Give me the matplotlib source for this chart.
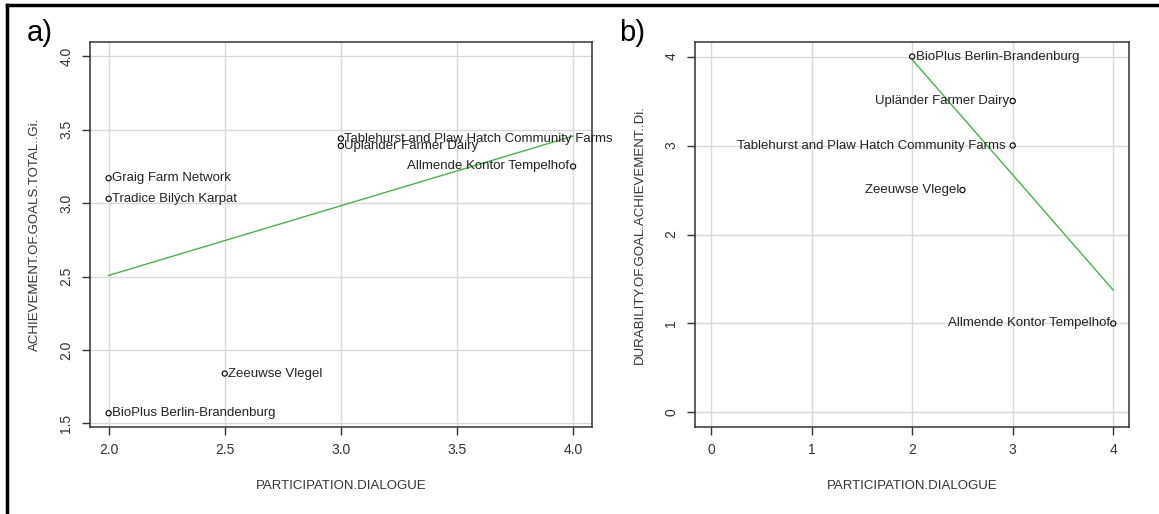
import numpy as np
import matplotlib
matplotlib.use("Agg")
import matplotlib.pyplot as plt
from matplotlib.lines import Line2D

plt.rcParams['font.family'] = ['Liberation Sans', 'DejaVu Sans']

# panel a data
names_a = ["Graig Farm Network", "Tradice Bilých Karpat", "Tablehurst and Plaw Hatch Community Farms",
           "Upländer Farmer Dairy", "Allmende Kontor Tempelhof", "Zeeuwse Vlegel", "BioPlus Berlin-Brandenburg"]
part_a = [2.0, 2.0, 3.0, 3.0, 4.0, 2.5, 2.0]
goals_a = [3.17, 3.03, 3.44, 3.39, 3.25, 1.84, 1.57]
side_a = ["r", "r", "r", "r", "l", "r", "r"]

# panel b data
names_b = ["BioPlus Berlin-Brandenburg", "Upländer Farmer Dairy", "Tablehurst and Plaw Hatch Community Farms ",
           "Zeeuwse Vlegel", "Allmende Kontor Tempelhof"]
part_b = [2.0, 3.0, 3.0, 2.5, 4.0]
dur_b = [4.0, 3.5, 3.0, 2.5, 1.0]
side_b = ["r", "l", "l", "l", "l"]

txtcol = "#333333"
gridcol = "#d9d9d9"
fs = 9.5

fig = plt.figure(figsize=(11.59, 5.14), dpi=100)
ax1 = fig.add_axes([0.0777, 0.1698, 0.4328, 0.7479])
ax2 = fig.add_axes([0.5997, 0.1698, 0.3747, 0.7479])


def panel(ax, x, y, names, sides, xlim, ylim, xticks, yticks, xfmt, ylab):
    ax.set_xlim(xlim)
    ax.set_ylim(ylim)
    ax.set_xticks(xticks)
    ax.set_yticks(yticks)
    ax.set_xticklabels([xfmt % t for t in xticks])
    ax.set_yticklabels([xfmt % t for t in yticks], rotation=90, va="center")
    ax.grid(True, color=gridcol, lw=1)
    ax.set_axisbelow(True)
    for s in ax.spines.values():
        s.set_color("#333333")
        s.set_linewidth(1.1)
    ax.tick_params(direction="out", length=6, width=1, colors="#333333",
                   labelsize=10, labelcolor=txtcol, pad=6)
    ax.scatter(x, y, s=14, facecolors="none", edgecolors="black", linewidths=0.8, zorder=3)
    for xi, yi, nm, sd in zip(x, y, names, sides):
        if sd == "r":
            ax.annotate(nm, (xi, yi), xytext=(2.5, 0), textcoords="offset points",
                        ha="left", va="center", fontsize=fs, color="#222222")
        else:
            ax.annotate(nm, (xi, yi), xytext=(-2.5, 0), textcoords="offset points",
                        ha="right", va="center", fontsize=fs, color="#222222")
    # least squares line over the range of the data
    k, b = np.polyfit(x, y, 1)
    xs = np.array([min(x), max(x)])
    ax.plot(xs, k * xs + b, color="#4caf50", lw=1)
    ax.set_xlabel("PARTICIPATION.DIALOGUE", fontsize=fs, color=txtcol, labelpad=16)
    ax.set_ylabel(ylab, fontsize=fs, color=txtcol, labelpad=13)


panel(ax1, part_a, goals_a, names_a, side_a, (1.92, 4.08), (1.478, 4.095),
      [2.0, 2.5, 3.0, 3.5, 4.0], [1.5, 2.0, 2.5, 3.0, 3.5, 4.0], "%.1f",
      "ACHIEVEMENT.OF.GOALS.TOTAL..Gi.")
panel(ax2, part_b, dur_b, names_b, side_b, (-0.16, 4.16), (-0.16, 4.16),
      [0, 1, 2, 3, 4], [0, 1, 2, 3, 4], "%d",
      "DURABILITY.OF.GOAL.ACHIEVEMENT..Di.")

fig.text(40 / 1159, 1 - 33 / 514, "a)", fontsize=21, ha="center", va="center")
fig.text(632 / 1159, 1 - 33 / 514, "b)", fontsize=21, ha="center", va="center")

# frame around the figure (only top and left visible in the crop)
fig.add_artist(Line2D([7 / 1159, 7 / 1159], [0, 1 - 5 / 514], transform=fig.transFigure, color="black", lw=2.5))
fig.add_artist(Line2D([7 / 1159, 1], [1 - 5 / 514, 1 - 5 / 514], transform=fig.transFigure, color="black", lw=2.5))

fig.savefig("out.png", dpi=100)
